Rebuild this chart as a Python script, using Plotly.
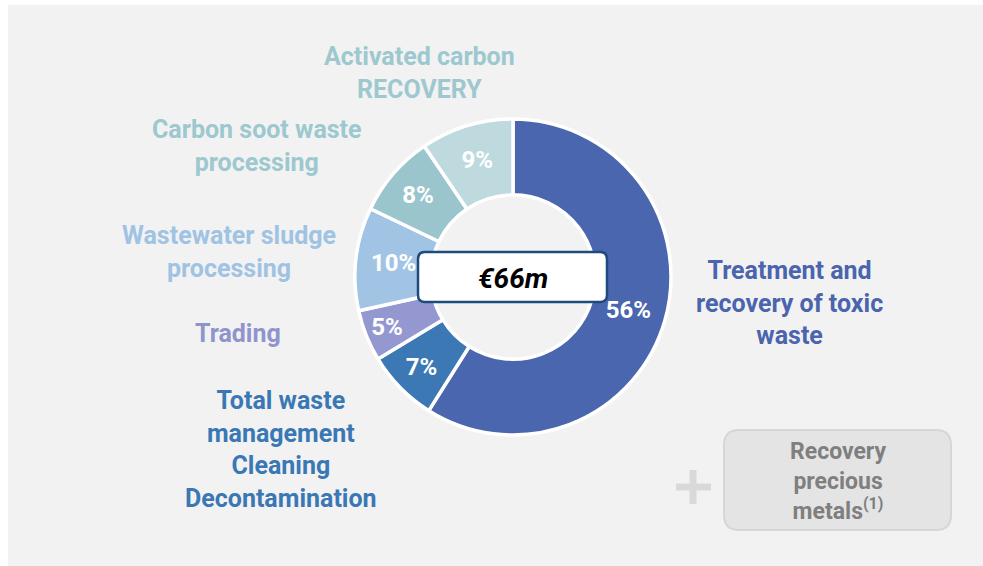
import plotly.graph_objects as go

# ---- data ----
segments = ["Treatment and recovery of toxic waste", "Total waste management Cleaning Decontamination",
            "Trading", "Wastewater sludge processing", "Carbon soot waste processing",
            "Activated carbon RECOVERY"]
shares = [56, 7, 5, 10, 8, 9]
share_labels = ["56%", "7%", "5%", "10%", "8%", "9%"]
slice_colors = ["#4A66AE", "#3B78B4", "#9598D0", "#A2C4E4", "#9AC5CC", "#BEDADF"]
label_texts = ["Treatment and<br>recovery of toxic<br>waste",
               "Total waste<br>management<br>Cleaning<br>Decontamination",
               "Trading",
               "Wastewater sludge<br>processing",
               "Carbon soot waste<br>processing",
               "Activated carbon<br>RECOVERY"]
label_colors = ["#4A64AD", "#3A78B5", "#9094CC", "#A0C3E3", "#9DC8CF", "#9DC8CF"]
label_pos = [(789, 303), (281, 449), (238, 333), (229, 252), (257, 146), (419, 73)]
total_label = "€66m"
extra_label = "Recovery<br>precious<br>metals<sup>(1)</sup>"

W, H = 983, 566
FONT = "Roboto, 'DejaVu Sans', sans-serif"

cx, cy, R = 513, 277, 158

fig = go.Figure()
fig.add_trace(go.Pie(
    labels=segments, values=shares, text=share_labels,
    texttemplate="%{text}", textinfo="text", textposition="inside",
    insidetextorientation="horizontal",
    sort=False, direction="clockwise", rotation=0, hole=0.52,
    marker=dict(colors=slice_colors, line=dict(color="white", width=3.5)),
    textfont=dict(family=FONT, size=24, color="white", weight="bold"),
    domain=dict(x=[(cx - R) / W, (cx + R) / W],
                y=[(H - cy - R) / H, (H - cy + R) / H]),
    showlegend=False, hoverinfo="label+text",
))
# invisible axes in pixel units for shapes/annotations
fig.add_trace(go.Scatter(x=[0, W], y=[0, H], mode="markers", marker=dict(opacity=0),
                         showlegend=False, hoverinfo="skip"))


def rrect(x0, y0, x1, y1, r):
    return (f"M{x0+r},{y0} L{x1-r},{y0} Q{x1},{y0} {x1},{y0+r} L{x1},{y1-r} Q{x1},{y1} {x1-r},{y1} "
            f"L{x0+r},{y1} Q{x0},{y1} {x0},{y1-r} L{x0},{y0+r} Q{x0},{y0} {x0+r},{y0} Z")


shapes = [
    dict(type="rect", xref="x", yref="y", x0=8, y0=5, x1=W, y1=H,
         fillcolor="#F2F2F2", line=dict(width=0), layer="below"),
    dict(type="path", xref="x", yref="y", path=rrect(418, 252, 607, 302, 7),
         fillcolor="white", line=dict(color="#1F4A7E", width=2.5), layer="above"),
    dict(type="path", xref="x", yref="y", path=rrect(724, 430, 951, 530, 15),
         fillcolor="#E4E4E4", line=dict(color="#D6D6D6", width=2), layer="above"),
    dict(type="line", xref="x", yref="y", x0=676, y0=487, x1=711, y1=487,
         line=dict(color="#D9D9D9", width=7)),
    dict(type="line", xref="x", yref="y", x0=693, y0=470, x1=693, y1=504,
         line=dict(color="#D9D9D9", width=7)),
]

annotations = []
for t, c, (x, y) in zip(label_texts, label_colors, label_pos):
    annotations.append(dict(x=x, y=y, xref="x", yref="y", text=t, showarrow=False,
                            align="center", xanchor="center", yanchor="middle",
                            font=dict(family=FONT, size=25, color=c, weight="bold")))
annotations.append(dict(x=513, y=278, xref="x", yref="y", text=f"<i>{total_label}</i>", showarrow=False,
                        font=dict(family=FONT, size=28, color="black", weight="bold")))
annotations.append(dict(x=838, y=481, xref="x", yref="y", text=extra_label, showarrow=False,
                        align="center", font=dict(family=FONT, size=23, color="#7F7F7F", weight="bold")))

fig.update_layout(
    width=W, height=H, margin=dict(l=0, r=0, t=0, b=0),
    paper_bgcolor="white", plot_bgcolor="rgba(0,0,0,0)",
    xaxis=dict(range=[0, W], visible=False, fixedrange=True, domain=[0, 1]),
    yaxis=dict(range=[H, 0], visible=False, fixedrange=True, domain=[0, 1]),
    shapes=shapes, annotations=annotations,
)

fig.write_html("out.html", config={"displayModeBar": False},
               post_script="document.body.style.margin='0';document.body.style.overflow='hidden';")
